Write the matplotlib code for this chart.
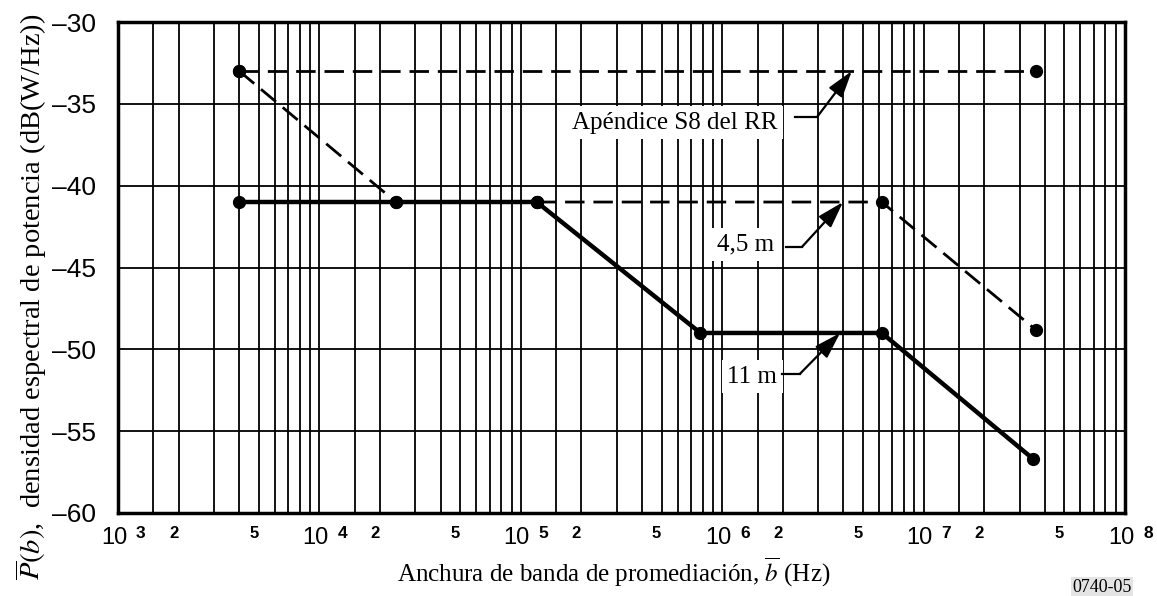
import matplotlib
matplotlib.use("Agg")
import matplotlib.pyplot as plt
import numpy as np

# ---- data ----
s8_flat_x = [4e3, 3.6e7]
s8_flat_y = [-33, -33]
s8_slope_x = [4e3, 2.4e4]
s8_slope_y = [-33, -41]
m45_solid_x = [4e3, 2.4e4, 1.2e5]
m45_solid_y = [-41, -41, -41]
m45_dash_x = [1.2e5, 6.2e6, 3.6e7]
m45_dash_y = [-41, -41, -48.8]
m11_x = [1.2e5, 7.8e5, 6.2e6, 3.5e7]
m11_y = [-41, -49, -49, -56.7]

decades = [3, 4, 5, 6, 7, 8]
minor_mult = [1.5, 2, 3, 4, 5, 6, 7, 8, 9]
small_labels = [2, 5]
y_ticks = [-30, -35, -40, -45, -50, -55, -60]

plt.rcParams['mathtext.fontset'] = 'stix'
serif = ['Liberation Serif', 'DejaVu Serif']
sans = ['Liberation Sans', 'DejaVu Sans']

fig = plt.figure(figsize=(11.57, 5.96), dpi=100)
ax = fig.add_axes([118/1157, 1-513/596, (1125-118)/1157, (513-22)/596])
ax.set_xscale('log')
ax.set_xlim(10**decades[0], 10**decades[-1])
ax.set_ylim(-60, -30)

# grid
for d in decades[:-1]:
    for m in [1] + minor_mult:
        ax.axvline(m * 10**d, color='black', lw=1.3, zorder=1)
for yv in y_ticks:
    ax.axhline(yv, color='black', lw=1.3, zorder=1)

for s in ax.spines.values():
    s.set_linewidth(2.5)

dash = (0, (7, 3.2))
ax.plot(s8_flat_x, s8_flat_y, color='black', lw=2.0, linestyle=dash, zorder=3)
ax.plot(s8_slope_x, s8_slope_y, color='black', lw=2.0, linestyle=dash, zorder=3)
ax.plot(m45_dash_x, m45_dash_y, color='black', lw=2.0, linestyle=dash, zorder=3)
ax.plot(m45_solid_x, m45_solid_y, color='black', lw=3.2, zorder=4)
ax.plot(m11_x, m11_y, color='black', lw=3.2, zorder=4)
for xs, ys in [(s8_flat_x, s8_flat_y), (s8_slope_x, s8_slope_y), (m45_solid_x, m45_solid_y),
               (m45_dash_x, m45_dash_y), (m11_x, m11_y)]:
    ax.plot(xs, ys, 'o', color='black', ms=8.5, zorder=5)

# ticks
ax.set_xticks([])
ax.minorticks_off()
ax.set_yticks(y_ticks)
ax.set_yticklabels(['\u2013' + str(abs(v)) for v in y_ticks])
ax.tick_params(axis='y', length=0, pad=16, labelsize=19)
for lab in ax.get_yticklabels():
    lab.set_fontfamily(sans)

px = 72 / 100
for d in decades:
    ax.annotate('10', xy=(10**d, 0), xycoords=('data', 'axes fraction'),
                xytext=(-4 * px, -25 * px), textcoords='offset points',
                ha='center', va='center', fontsize=17, family=sans)
    ax.annotate(str(d), xy=(10**d, 0), xycoords=('data', 'axes fraction'),
                xytext=(18 * px, -20 * px), textcoords='offset points',
                ha='left', va='center', fontsize=12.5, family=sans, fontweight='bold')
for d in decades[:-1]:
    for m in small_labels:
        ax.annotate(str(m), xy=(m * 10**d, 0), xycoords=('data', 'axes fraction'),
                    xytext=(-5 * px, -20 * px), textcoords='offset points',
                    ha='center', va='center', fontsize=12, family=sans, fontweight='bold')

fig.text(31/1157, 1-297/596, r'$\overline{P}(b)$,  densidad espectral de potencia (dB(W/Hz))',
         rotation=90, ha='center', va='center', fontsize=20.5, family=serif)
fig.text(614/1157, 1-572/596, r'Anchura de banda de promediación, $\overline{b}$ (Hz)',
         ha='center', va='center', fontsize=18, family=serif)
fig.text(1102/1157, 1-587/596, '0740-05', ha='center', va='center', fontsize=13,
         family=serif, bbox=dict(facecolor='#e4e4e4', edgecolor='none', pad=1))

# annotations
box = dict(facecolor='white', edgecolor='none', pad=4)
notes = [
    ('Apéndice S8 del RR', 5.83e5, -36.17, (2.30e6, 2.96e6), -35.8, (4.4e6, -33)),
    ('4,5 m', 1.31e6, -43.62, (2.07e6, 2.49e6), -43.74, (3.98e6, -41)),
    ('11 m', 1.41e6, -51.69, (1.98e6, 2.43e6), -51.5, (3.85e6, -49)),
]
for txt, tx, ty, (l0, l1), ly, tip in notes:
    ax.text(tx, ty, txt, ha='center', va='center', fontsize=18, family=serif,
            bbox=box, zorder=6)
    ax.plot([l0, l1], [ly, ly], color='black', lw=1.6, zorder=6)
    ax.annotate('', xy=tip, xytext=(l1, ly),
                arrowprops=dict(arrowstyle='-|>,head_length=0.9,head_width=0.28',
                                color='black', lw=1.6,
                                mutation_scale=18, shrinkA=0, shrinkB=0), zorder=6)

fig.savefig('out.png', dpi=100)
